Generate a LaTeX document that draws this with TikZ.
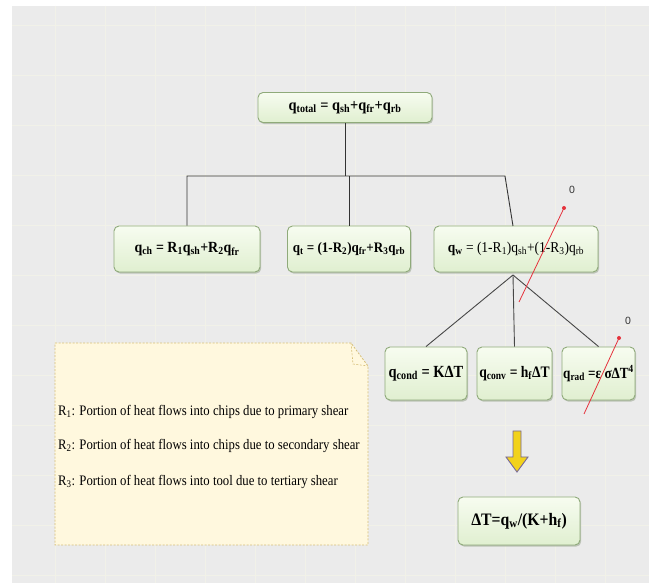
\documentclass[tikz,border=0pt]{standalone}
\usepackage{fontspec}
\setmainfont{Liberation Serif}
\setsansfont{Liberation Sans}
\usetikzlibrary{shadows}
\definecolor{bgc}{HTML}{EBEBEB}
\definecolor{gridc}{HTML}{F1F1E8}
\definecolor{boxtop}{HTML}{F7FCF0}
\definecolor{boxbot}{HTML}{E0EFD0}
\definecolor{boxline}{HTML}{8FAA7A}
\definecolor{shadowc}{HTML}{A9B3A0}
\definecolor{notefill}{HTML}{FFF8DE}
\definecolor{noteline}{HTML}{D6BF78}
\definecolor{arrowfill}{HTML}{F2D21B}
\definecolor{arrowline}{HTML}{76689A}
\definecolor{zeroline}{HTML}{E5323C}
\definecolor{linkc}{HTML}{333333}
\newcommand{\sub}[1]{\textsubscript{#1}}
\newcommand{\fs}[1]{\fontsize{#1}{#1}\selectfont}
\begin{document}
\begin{tikzpicture}[x=1pt,y=-1pt,
  eqbox/.style={draw=boxline, line width=0.9pt, rounded corners=5pt,
    top color=boxtop, bottom color=boxbot, inner sep=1pt, align=center,
    font=\bfseries,
    drop shadow={shadow xshift=1.2pt, shadow yshift=-1.6pt, fill=shadowc, opacity=0.7}},
  link/.style={draw=linkc, line width=0.9pt},
  zero/.style={draw=zeroline, line width=0.8pt},
  zerodot/.style={fill=zeroline, circle, inner sep=0pt, minimum size=4pt},
  zerolabel/.style={font=\sffamily\fs{10.5}, text=black!80},
  notetext/.style={anchor=west, font=\fs{14.5}, inner sep=0pt}
]
% canvas and faint grid
\useasboundingbox (0,0) rectangle (649,585);
\fill[white] (0,0) rectangle (649,585);
\fill[bgc] (12,6) rectangle (649,583);
\foreach \gx in {55,105,...,605} \draw[gridc, line width=1pt] (\gx,6) -- (\gx,583);
\foreach \gy in {26,76,...,576} \draw[gridc, line width=1pt] (12,\gy) -- (649,\gy);

% equation boxes
\node[eqbox, minimum width=174pt, minimum height=30pt] (top) at (345,107.5)
  {\scalebox{0.9}[1]{\fs{16}q\sub{total} = q\sub{sh}+q\sub{fr}+q\sub{rb}}};
\node[eqbox, minimum width=146pt, minimum height=46pt] (ch) at (187,249)
  {\scalebox{0.9}[1]{\fs{15.5}q\sub{ch} = R\sub{1}q\sub{sh}+R\sub{2}q\sub{fr}}};
\node[eqbox, minimum width=123pt, minimum height=46pt] (t) at (349,249)
  {\scalebox{0.9}[1]{\fs{14.5}q\sub{t} = (1-R\sub{2})q\sub{fr}+R\sub{3}q\sub{rb}}};
\node[eqbox, minimum width=164pt, minimum height=46pt] (w) at (516,249)
  {\scalebox{0.9}[1]{\fs{15}q\sub{w} \mdseries= (1-R\sub{1})q\sub{sh}+(1-R\sub{3})q\sub{rb}}};
\node[eqbox, minimum width=82pt, minimum height=53pt] (cond) at (426,373.5)
  {\scalebox{0.85}[1]{\fs{17}q\sub{cond} = KΔT}};
\node[eqbox, minimum width=75pt, minimum height=53pt] (conv) at (514.5,373.5)
  {\scalebox{0.85}[1]{\fs{16}q\sub{conv} = h\sub{f}ΔT}};
\node[eqbox, minimum width=73pt, minimum height=53pt] (rad) at (598.5,373.5)
  {\scalebox{0.85}[1]{\fs{15.5}q\sub{rad} =ε σΔT\textsuperscript{4}}};
\node[eqbox, minimum width=122pt, minimum height=48pt] (dT) at (519,521)
  {\scalebox{0.9}[1]{\fs{17.5}ΔT=q\sub{w}/(K+h\sub{f})}};

% tree connectors
\coordinate (bar) at (345,176);
\coordinate (barR) at (505,176);
\draw[link] (top.south) -- (bar);
\draw[link] (ch.north) -- (ch.north |- bar) -- (barR) -- (513,226);
\draw[link] (t.north) -- (t.north |- bar);
\coordinate (fan) at (513,275);
\draw[link, draw=linkc!90] (fan) -- (cond.north);
\draw[link, draw=linkc!90] (fan) -- (conv.north);
\draw[link, draw=linkc!90] (fan) -- (rad.north);

% terms set to zero
\coordinate (z1a) at (519,302);
\node[zerodot] (z1) at (564,208) {};
\draw[zero] (z1a) -- (z1.center);
\node[zerolabel] (z1l) at (572,190) {0};
\coordinate (z2a) at (584,414);
\node[zerodot] (z2) at (619,338) {};
\draw[zero] (z2a) -- (z2.center);
\node[zerolabel] (z2l) at (628,321) {0};

% block arrow towards the temperature rise
\draw[fill=arrowfill, draw=arrowline, line width=0.9pt, line join=miter]
  (513,431) -- (521,431) -- (521,457) -- (528,457) -- (517,472)
  -- (506,457) -- (513,457) -- cycle;

% note with folded corner
\draw[fill=notefill, draw=noteline, dashed, dash pattern=on 2pt off 1.5pt, line width=0.8pt]
  (55,343) -- (351,343) -- (368,366) -- (368,545) -- (55,545) -- cycle;
\draw[draw=noteline, dashed, dash pattern=on 2pt off 1.5pt, line width=0.6pt]
  (351,343) -- (353,364) -- (368,366);
\node[notetext] (r1) at (58,412) {\scalebox{0.88}[1]{R\sub{1}: Portion of heat flows into chips due to primary shear}};
\node[notetext] (r2) at (58,446) {\scalebox{0.88}[1]{R\sub{2}: Portion of heat flows into chips due to secondary shear}};
\node[notetext] (r3) at (58,482) {\scalebox{0.88}[1]{R\sub{3}: Portion of heat flows into tool due to tertiary shear}};
\end{tikzpicture}
\end{document}
